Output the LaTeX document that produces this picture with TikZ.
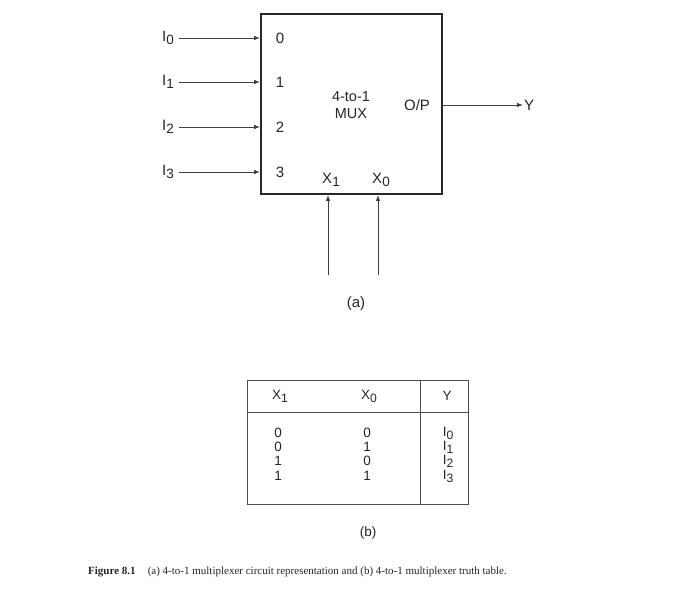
\documentclass[tikz,border=0pt]{standalone}
\usepackage{fontspec}
\setmainfont{Liberation Sans}
\newfontfamily\capfont{Liberation Serif}
\usetikzlibrary{arrows.meta}
\newcommand\sbs[1]{\raisebox{-0.4ex}{\scalebox{0.9}{#1}}}
\tikzset{
  arr/.style={draw=black!75, line width=0.9pt, -{Latex[length=6pt,width=4.5pt]}},
  lbl/.style={font=\fontsize{15}{17}\selectfont, text=black!85, inner sep=1pt},
  tlbl/.style={font=\fontsize{13.5}{15}\selectfont, text=black!85, inner sep=0pt},
  tline/.style={draw=black!70, line width=0.9pt},
}
\begin{document}
\begin{tikzpicture}[x=1pt,y=-1pt]
\useasboundingbox (0,0) rectangle (682,597);
% MUX box
\node[draw=black!85, line width=1.8pt, minimum width=181pt, minimum height=180pt, inner sep=0pt] (mux) at (351.5,104) {};
% inputs
\foreach \k/\yy in {0/38,1/82,2/127,3/172}{
  \node[lbl, anchor=east] (i\k) at (175,\yy) {I\sbs{\k}};
  \draw[arr] (i\k.east) ++(4pt,0) coordinate (is\k) -- (is\k -| mux.west);
  \node[lbl] (n\k) at (280,\yy) {\k};
}
\node[lbl, align=center, font=\fontsize{14.5}{17}\selectfont] (name) at (351,105) {4-to-1\\MUX};
\node[lbl] (op) at (417,105) {O/P};
\node[lbl, anchor=west] (y) at (523,105) {Y};
\draw[arr] (op -| mux.east) -- (y.west);
\node[lbl] (x1) at (331,180) {X\sbs{1}};
\node[lbl] (x0) at (381,180) {X\sbs{0}};
\coordinate (s1) at (328,275);
\coordinate (s0) at (378,275);
\draw[arr] (s1) -- (s1 |- mux.south);
\draw[arr] (s0) -- (s0 |- mux.south);
\node[lbl] (ca) at (356,304) {(a)};
% truth table
\node[tline, minimum width=221pt, minimum height=124pt, inner sep=0pt] (tab) at (357.5,442) {};
\coordinate (hl) at (247,412);
\coordinate (vd) at (420,380);
\draw[tline] (hl -| tab.west) -- (hl -| tab.east);
\draw[tline] (vd |- tab.north) -- (vd |- tab.south);
\node[tlbl] (h1) at (280,396) {X\sbs{1}};
\node[tlbl] (h0) at (369,396) {X\sbs{0}};
\node[tlbl] (hy) at (447,396) {Y};
\foreach \a/\b/\c/\yy in {0/0/0/433,0/1/1/447,1/0/2/461,1/1/3/476}{
  \node[tlbl] at (278,\yy) {\a};
  \node[tlbl] at (367,\yy) {\b};
  \node[tlbl] at (448,\yy) {I\sbs{\c}};
}
\node[tlbl] (cb) at (368,533) {(b)};
% caption
\node[anchor=west, inner sep=0pt, font=\capfont\fontsize{11}{13}\selectfont, text=black!85] (cap) at (88,572) {\textbf{Figure 8.1}\hspace{1.1em}(a) 4-to-1 multiplexer circuit representation and (b) 4-to-1 multiplexer truth table.};
\end{tikzpicture}
\end{document}
